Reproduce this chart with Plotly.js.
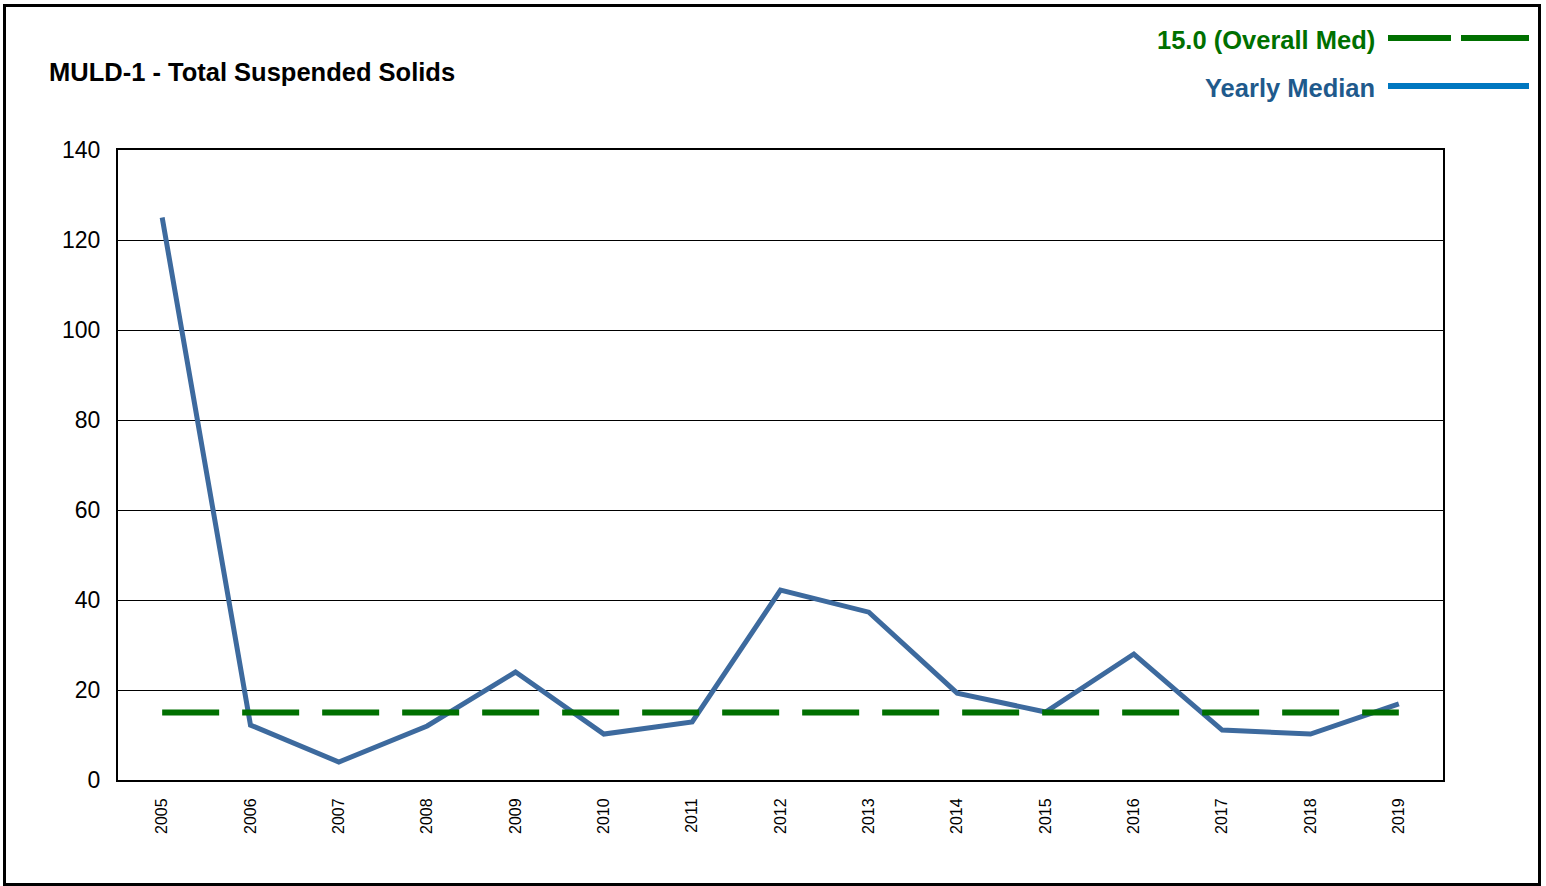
<!DOCTYPE html>
<html>
<head>
<meta charset="utf-8">
<script src="https://cdn.plot.ly/plotly-3.0.1.min.js"></script>
<style>
html,body{margin:0;padding:0;background:#fff;}
#chart{width:1546px;height:886px;}
</style>
</head>
<body>
<div id="chart"></div>
<script>
// Data
const years = ["2005","2006","2007","2008","2009","2010","2011","2012","2013","2014","2015","2016","2017","2018","2019"];
const yearlyMedian = [125, 12.2, 4, 12, 24, 10.2, 12.9, 42.2, 37.3, 19.3, 15.1, 28, 11.1, 10.2, 16.9];
const overallMedian = 15.0;
const yTicks = [0, 20, 40, 60, 80, 100, 120, 140];
const chartTitle = "MULD-1 - Total Suspended Solids";
const legendLabels = ["15.0 (Overall Med)", "Yearly Median"];

const W = 1546, H = 886;
const mL = 118, mR = 103, mT = 150, mB = 106;
const pw = W - mL - mR, ph = H - mT - mB;
const px = v => (v - mL) / pw;          // pixel x -> paper
const py = v => (H - mB - v) / ph;      // pixel y -> paper

const traces = [
  {
    x: years, y: yearlyMedian,
    type: "scatter", mode: "lines",
    line: {color: "#3d6a9e", width: 5},
    showlegend: false
  },
  {
    x: [years[0], years[years.length - 1]],
    y: [overallMedian, overallMedian],
    type: "scatter", mode: "lines",
    line: {color: "#007000", width: 6, dash: "57px,23px"},
    hoverinfo: "skip", showlegend: false
  }
];

const layout = {
  width: W, height: H,
  margin: {l: mL, r: mR, t: mT, b: mB, pad: 0},
  paper_bgcolor: "#fff", plot_bgcolor: "#fff",
  font: {family: "Liberation Sans, Arial, sans-serif", color: "#000"},
  showlegend: false,
  xaxis: {
    type: "category", categoryorder: "array", categoryarray: years,
    range: [-0.5, 14.5],
    showline: true, linecolor: "#000", linewidth: 2, mirror: true,
    showgrid: false, zeroline: false,
    ticks: "", tickangle: -90,
    tickfont: {size: 16, color: "#000"}, ticklabelstandoff: 10
  },
  yaxis: {
    range: [0, 140], tickvals: yTicks, ticktext: yTicks.map(String),
    showline: true, linecolor: "#000", linewidth: 2, mirror: true,
    showgrid: true, gridcolor: "#000", gridwidth: 1, zeroline: false,
    ticks: "", tickfont: {size: 23, color: "#000"}, ticklabelstandoff: 11
  },
  annotations: [
    {text: "<b>" + chartTitle + "</b>", xref: "paper", yref: "paper",
     x: px(47), y: py(72), xanchor: "left", yanchor: "middle", showarrow: false,
     font: {size: 25.5, color: "#000"}},
    {text: "<b>" + legendLabels[0] + "</b>", xref: "paper", yref: "paper",
     x: px(1377), y: py(40), xanchor: "right", yanchor: "middle", showarrow: false,
     font: {size: 25.5, color: "#007000"}},
    {text: "<b>" + legendLabels[1] + "</b>", xref: "paper", yref: "paper",
     x: px(1377), y: py(88), xanchor: "right", yanchor: "middle", showarrow: false,
     font: {size: 25.5, color: "#1f5a8c"}}
  ],
  shapes: [
    {type: "rect", xref: "paper", yref: "paper",
     x0: px(4.5), x1: px(1539.5), y0: py(5.5), y1: py(884.5),
     line: {color: "#000", width: 3}, fillcolor: "rgba(0,0,0,0)", layer: "above"},
    {type: "line", xref: "paper", yref: "paper",
     x0: px(1388), x1: px(1451), y0: py(38), y1: py(38),
     line: {color: "#007000", width: 6}},
    {type: "line", xref: "paper", yref: "paper",
     x0: px(1461), x1: px(1529), y0: py(38), y1: py(38),
     line: {color: "#007000", width: 6}},
    {type: "line", xref: "paper", yref: "paper",
     x0: px(1388), x1: px(1529), y0: py(86), y1: py(86),
     line: {color: "#0077c0", width: 6}}
  ]
};

Plotly.newPlot("chart", traces, layout, {displayModeBar: false, staticPlot: true});
</script>
</body>
</html>
